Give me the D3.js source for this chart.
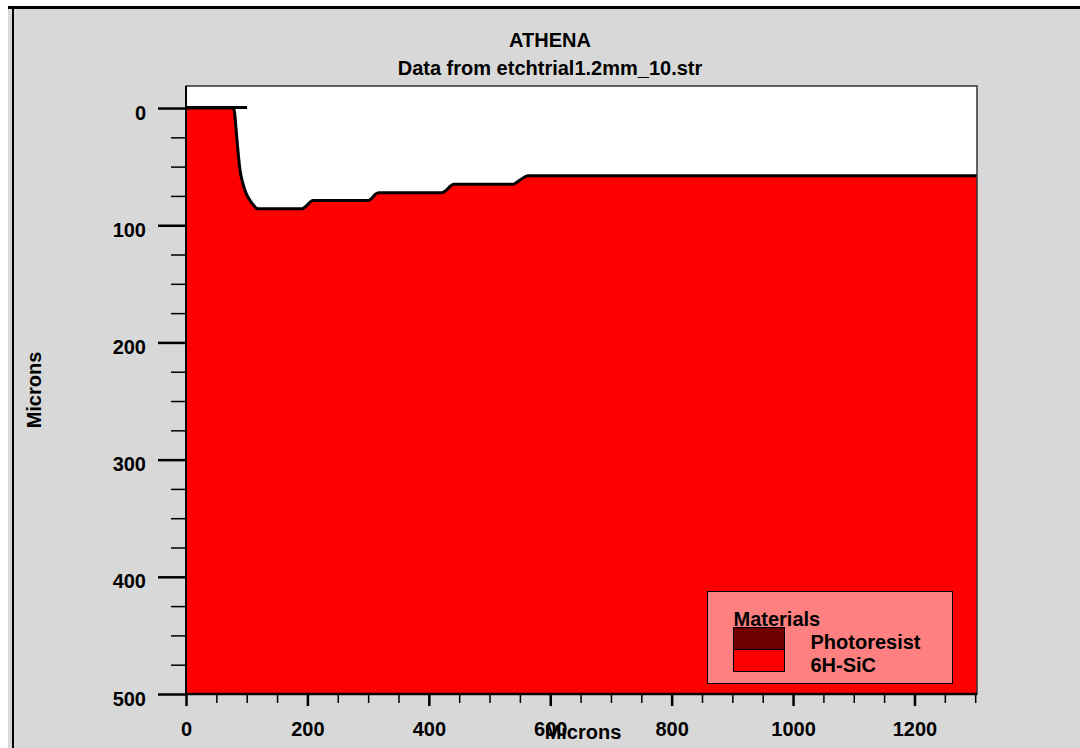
<!DOCTYPE html>
<html>
<head>
<meta charset="utf-8">
<script src="https://cdn.jsdelivr.net/npm/d3@7"></script>
<style>
  body { margin: 0; background: #fff; }
  text { font-family: "Liberation Sans", Arial, sans-serif; font-weight: bold; fill: #000; }
</style>
</head>
<body>
<div id="canvas"></div>
<script>
// chart texts
var title = 'ATHENA';
var subtitle = 'Data from etchtrial1.2mm_10.str';
var xLabel = 'Microns';
var yLabel = 'Microns';

// axis ticks (microns)
var xMajor = [0, 200, 400, 600, 800, 1000, 1200];
var yMajor = [0, 100, 200, 300, 400, 500];

// etched 6H-SiC surface, [x, depth] in microns
var sicX = [0, 78, 80, 82, 85, 89, 93, 97, 101, 105, 110, 116, 122, 190, 196, 203, 209, 300, 306, 312, 318, 421, 428, 435, 441, 539, 546, 556, 563, 1303];
var sicY = [0, 0, 4, 15, 33, 53, 63, 70, 75, 78.5, 82, 85.5, 86, 86, 84.5, 81, 79, 79, 77, 73.5, 72.3, 72.3, 70.5, 67, 65.1, 65.1, 63, 59.5, 57.8, 57.8];

// thin photoresist layer left on the mask region
var resistX = [0, 99];
var resistTop = [-0.9, -0.9];
var resistBottom = [0, 0];

// materials legend
var materials = ['Photoresist', '6H-SiC'];
var matColors = ['#700000', '#ff0000'];

var W = 1080, H = 748;
var plot = {left: 186, right: 977, top: 86, bottom: 694};

var svg = d3.select('#canvas').append('svg').attr('width', W).attr('height', H);

// window frame
svg.append('rect').attr('x', 8).attr('y', 6).attr('width', W - 8).attr('height', H - 6).attr('fill', '#d8d8d8');
svg.append('rect').attr('x', 8).attr('y', 6).attr('width', W - 8).attr('height', 3).attr('fill', '#000');
svg.append('rect').attr('x', 12).attr('y', 6).attr('width', 2).attr('height', H - 6).attr('fill', '#000');

// dither pattern for legend box
var pat = svg.append('defs').append('pattern').attr('id', 'dither')
    .attr('patternUnits', 'userSpaceOnUse').attr('width', 2).attr('height', 2);
pat.append('rect').attr('width', 2).attr('height', 2).attr('fill', '#fff');
pat.append('rect').attr('width', 1).attr('height', 1).attr('fill', '#ff0000');
pat.append('rect').attr('x', 1).attr('y', 1).attr('width', 1).attr('height', 1).attr('fill', '#ff0000');

var x = d3.scaleLinear().domain([0, 1303]).range([plot.left, plot.right]);
var y = d3.scaleLinear().domain([-18.8, 500]).range([plot.top, plot.bottom]);

// titles
svg.append('text').attr('x', 550).attr('y', 47).attr('text-anchor', 'middle').style('font-size', '20px').text(title);
svg.append('text').attr('x', 550).attr('y', 75).attr('text-anchor', 'middle').style('font-size', '20px').text(subtitle);

// plot background
svg.append('rect').attr('x', plot.left).attr('y', plot.top)
    .attr('width', plot.right - plot.left).attr('height', plot.bottom - plot.top).attr('fill', '#fff');

var sic = sicX.map(function(d, i){ return [d, sicY[i]]; });
var area = d3.area().x(function(d){ return x(d[0]); }).y0(y(500)).y1(function(d){ return y(d[1]); }).curve(d3.curveMonotoneX);
var line = d3.line().x(function(d){ return x(d[0]); }).y(function(d){ return y(d[1]); }).curve(d3.curveMonotoneX);

svg.append('path').datum(sic).attr('d', area).attr('fill', '#ff0000');
svg.append('path').datum(sic).attr('d', line).attr('fill', 'none').attr('stroke', '#000').attr('stroke-width', 3);

// photoresist strip
var resist = resistX.map(function(d, i){ return [d, resistTop[i]]; })
    .concat(resistX.map(function(d, i){ return [d, resistBottom[i]]; }).reverse());
svg.append('path').datum(resist)
    .attr('d', d3.line().x(function(d){ return x(d[0]); }).y(function(d){ return y(d[1]); })(resist) + 'Z')
    .attr('fill', matColors[0]).attr('stroke', '#000').attr('stroke-width', 2);

// plot border
svg.append('rect').attr('x', plot.left).attr('y', plot.top)
    .attr('width', plot.right - plot.left).attr('height', plot.bottom - plot.top)
    .attr('fill', 'none').attr('stroke', '#333').attr('stroke-width', 1.5);

// y axis
var yMinor = d3.range(0, 501, 25).filter(function(d){ return yMajor.indexOf(d) < 0; });
var yAxisMin = svg.append('g').attr('transform', 'translate(' + plot.left + ',0)')
    .call(d3.axisLeft(y).tickValues(yMinor).tickSize(15).tickFormat(''));
var yAxis = svg.append('g').attr('transform', 'translate(' + plot.left + ',0)')
    .call(d3.axisLeft(y).tickValues(yMajor).tickSize(28).tickPadding(12).tickFormat(d3.format('d')));
yAxis.selectAll('text').attr('dy', '0.55em').style('font-size', '20px').style('font-family', null);
yAxis.selectAll('line').attr('stroke-width', 2.5);
yAxisMin.selectAll('line').attr('stroke-width', 1.5);

// x axis
var xMinor = d3.range(0, 1301, 50).filter(function(d){ return xMajor.indexOf(d) < 0; });
var xAxisMin = svg.append('g').attr('transform', 'translate(0,' + plot.bottom + ')')
    .call(d3.axisBottom(x).tickValues(xMinor).tickSize(9).tickFormat(''));
var xAxis = svg.append('g').attr('transform', 'translate(0,' + plot.bottom + ')')
    .call(d3.axisBottom(x).tickValues(xMajor).tickSize(12).tickFormat(d3.format('d')));
xAxis.selectAll('text').attr('y', 42).attr('dy', 0).style('font-size', '20px').style('font-family', null);
xAxis.selectAll('line').attr('stroke-width', 2.5);
xAxisMin.selectAll('line').attr('stroke-width', 1.5);
svg.selectAll('.domain').remove();

// axis lines
svg.append('line').attr('x1', plot.left).attr('x2', plot.left).attr('y1', plot.top).attr('y2', plot.bottom + 1)
    .attr('stroke', '#000').attr('stroke-width', 2);
svg.append('line').attr('x1', plot.left - 1).attr('x2', plot.right).attr('y1', plot.bottom).attr('y2', plot.bottom)
    .attr('stroke', '#000').attr('stroke-width', 2.5);

// axis titles
svg.append('text').attr('x', 583).attr('y', 739).attr('text-anchor', 'middle').style('font-size', '20px').text(xLabel);
svg.append('text').attr('transform', 'translate(41,' + ((plot.top + plot.bottom) / 2) + ') rotate(-90)')
    .attr('text-anchor', 'middle').style('font-size', '20px').text(yLabel);

// legend
var lg = svg.append('g').attr('transform', 'translate(707.5,591.5)');
lg.append('rect').attr('width', 245).attr('height', 92).attr('fill', 'url(#dither)')
    .attr('stroke', '#000').attr('stroke-width', 1.5).attr('shape-rendering', 'crispEdges');
lg.append('text').attr('x', 26).attr('y', 34).style('font-size', '20px').text('Materials');
lg.selectAll('rect.sw').data(materials).enter().append('rect').attr('class', 'sw')
    .attr('x', 26).attr('y', function(d, i){ return 36 + i * 22; })
    .attr('width', 51).attr('height', 22)
    .attr('fill', function(d, i){ return matColors[i]; })
    .attr('stroke', '#000').attr('stroke-width', 1.5).attr('shape-rendering', 'crispEdges');
lg.selectAll('text.lb').data(materials).enter().append('text').attr('class', 'lb')
    .attr('x', 103).attr('y', function(d, i){ return 57 + i * 23; })
    .style('font-size', '20px').text(function(d){ return d; });
</script>
</body>
</html>
